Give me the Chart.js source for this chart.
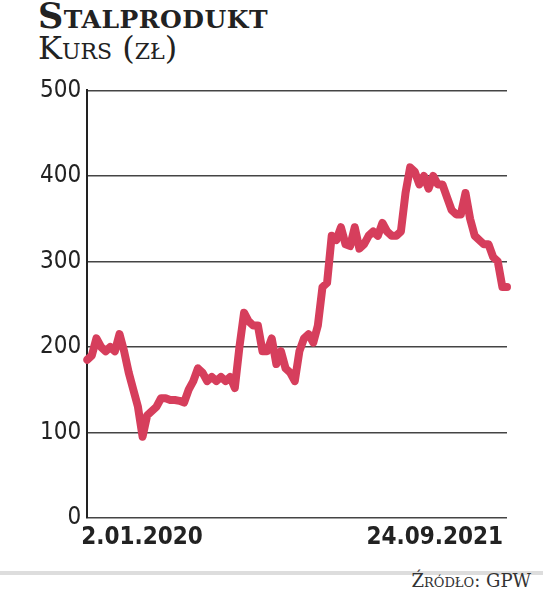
<!DOCTYPE html>
<html>
<head>
<meta charset="utf-8">
<script src="https://cdn.jsdelivr.net/npm/chart.js@4"></script>
<style>
  body { margin: 0; background: #fff; width: 543px; height: 593px; position: relative; overflow: hidden; }
  #title { position: absolute; left: 38px; top: -2px; font-family: "DejaVu Serif"; font-weight: bold; font-variant: small-caps; font-size: 35px; color: #222; line-height: 36px; letter-spacing: 0.5px; }
  #sub { position: absolute; left: 38px; top: 30px; font-family: "DejaVu Serif"; font-variant: small-caps; font-size: 32px; color: #222; line-height: 36px; }
  #box { position: absolute; left: 0; top: 70px; width: 543px; height: 490px; }
  #band { position: absolute; left: 0; top: 571px; width: 543px; height: 4px; background: #ddd; }
  #src { position: absolute; right: 12px; top: 570px; font-family: "DejaVu Serif"; font-variant: small-caps; font-size: 18px; color: #333; }
</style>
</head>
<body>
<div id="title">Stalprodukt</div>
<div id="sub">Kurs (zł)</div>
<div id="box"><canvas id="c"></canvas></div>
<div id="band"></div>
<div id="src">Źródło: GPW</div>
<script>
const prices = [185, 190, 210, 200, 195, 200, 195, 215, 195, 170, 150, 130, 95, 120, 125, 130, 140, 140, 138, 138, 137, 135,
  150, 160, 175, 170, 160, 165, 160, 165, 160, 165, 152, 200, 240, 230, 225, 225, 195, 195, 210, 180, 195, 175, 170, 160,
  195, 210, 215, 205, 225, 270, 275, 330, 325, 340, 320, 318, 340, 315, 320, 330, 335, 330, 345, 335, 330, 330, 335,
  380, 410, 405, 390, 400, 385, 400, 390, 390, 375, 360, 355, 355, 380, 350, 330, 325, 320, 320, 305, 300, 270, 270];
const startDate = '2.01.2020';
const endDate = '24.09.2021';
const yTicks = [0, 100, 200, 300, 400, 500];
const labels = prices.map((p, i) => i === 0 ? startDate : (i === prices.length - 1 ? endDate : ''));

const dateLabels = {
  id: 'dateLabels',
  afterDraw(chart) {
    const { ctx, chartArea } = chart;
    ctx.save();
    ctx.font = 'bold 24px "DejaVu Sans Condensed"';
    ctx.fillStyle = '#222';
    ctx.textBaseline = 'top';
    ctx.textAlign = 'left';
    ctx.fillText(startDate, chartArea.left - 6, chartArea.bottom + 8);
    ctx.textAlign = 'right';
    ctx.fillText(endDate, chartArea.right - 4, chartArea.bottom + 8);
    ctx.restore();
  }
};

new Chart(document.getElementById('c'), {
  type: 'line',
  data: {
    labels: labels,
    datasets: [{
      data: prices,
      borderColor: '#d63e5c',
      borderWidth: 8,
      pointRadius: 0,
      tension: 0,
      borderJoinStyle: 'round',
      borderCapStyle: 'round'
    }]
  },
  options: {
    responsive: true,
    maintainAspectRatio: false,
    animation: false,
    layout: { padding: { left: 34, right: 36, top: 14, bottom: 34 } },
    plugins: { legend: { display: false }, tooltip: { enabled: false } },
    scales: {
      x: {
        offset: false,
        grid: { display: false },
        border: { display: false },
        ticks: { display: false }
      },
      y: {
        min: 0, max: 500,
        afterBuildTicks: axis => { axis.ticks = yTicks.map(v => ({ value: v })); },
        grid: { color: '#444', lineWidth: 1.5, drawTicks: false },
        border: { display: true, color: '#222', width: 2 },
        ticks: { color: '#222', padding: 6, font: { family: 'DejaVu Sans Condensed', size: 24 } }
      }
    }
  },
  plugins: [dateLabels]
});
</script>
</body>
</html>
